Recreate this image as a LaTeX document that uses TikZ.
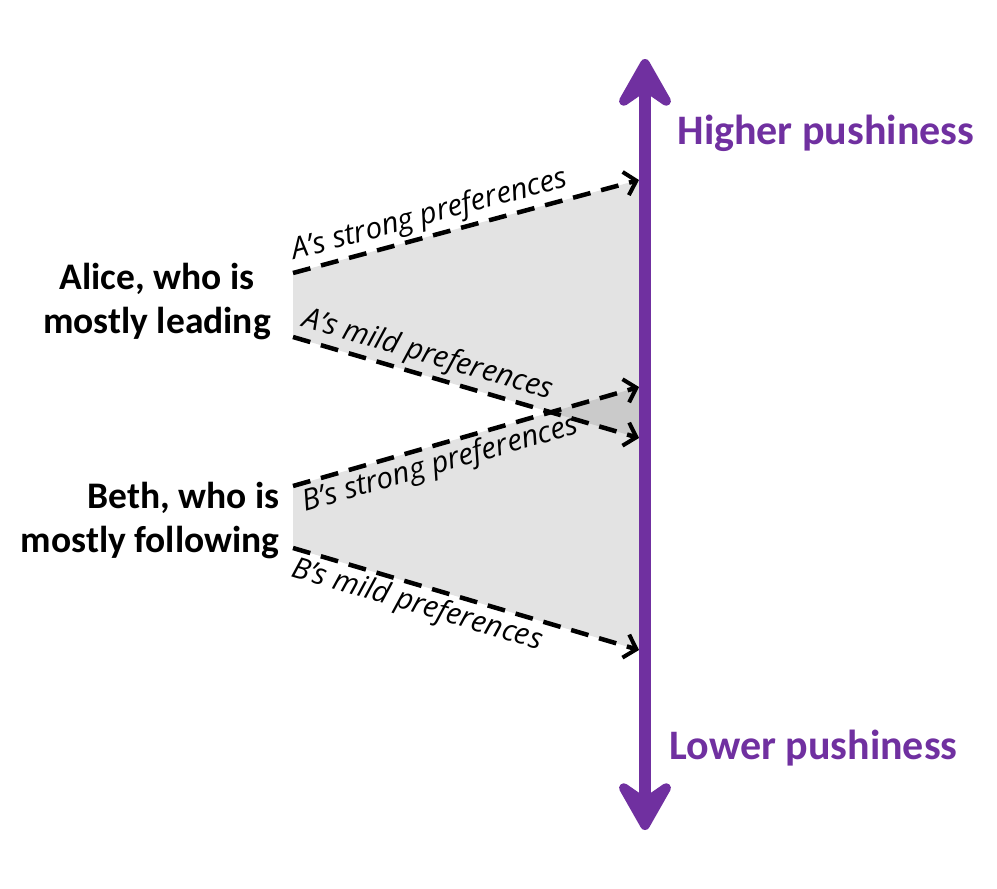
\documentclass[tikz,border=0pt]{standalone}
\usepackage{fontspec}
\setmainfont{Carlito}
\newfontfamily\labfont{Open Sans}
\usetikzlibrary{arrows.meta}
\definecolor{pptpurple}{HTML}{7030A0}
\tikzset{
  fan/.style={fill=black, fill opacity=0.11, draw=none},
  pref/.style={line width=4.5pt, dash pattern=on 18pt off 11pt,
    -{Straight Barb[length=11pt,width=24pt,line width=4pt]}},
  lab/.style={font=\labfont\itshape\fontsize{29.5}{34}\selectfont, inner sep=3pt},
  who/.style={font=\bfseries\fontsize{37.5}{44}\selectfont, text=black},
  axislab/.style={font=\bfseries\fontsize{42}{48}\selectfont, text=pptpurple, anchor=west},
  axishead/.tip={Stealth[length=62pt,width=70pt,inset=24pt,round]},
  axisline/.style={draw=pptpurple, line width=12pt, axishead-axishead}
}
\begin{document}
\begin{tikzpicture}[x=1pt,y=-1pt]
\useasboundingbox (0,0) rectangle (997,889);
% endpoints
\coordinate (as0) at (293,273);
\coordinate (as1) at (639,180);
\coordinate (am0) at (293,337);
\coordinate (am1) at (639,438);
\coordinate (bs0) at (293,486);
\coordinate (bs1) at (639,387);
\coordinate (bm0) at (293,548);
\coordinate (bm1) at (639,650);
\coordinate (axtop) at (645,59);
\coordinate (axbot) at (645,830);
% fans
\fill[fan] (as0) -- (as1) -- (am1) -- (am0) -- cycle;
\fill[fan] (bs0) -- (bs1) -- (bm1) -- (bm0) -- cycle;
% preference arrows
\draw[pref] (as0) -- node[lab, sloped, pos=0, anchor=south west] (las) {A’s strong preferences} (as1);
\draw[pref] (am0) -- node[lab, sloped, pos=0, anchor=south west] (lam) {A’s mild preferences} (am1);
\draw[pref] (bs0) -- node[lab, sloped, pos=0, anchor=north west] (lbs) {B’s strong preferences} (bs1);
\draw[pref] (bm0) -- node[lab, sloped, pos=0, anchor=north west] (lbm) {B’s mild preferences} (bm1);
% axis
\draw[axisline] (axtop) -- (axbot);
\node[axislab] (hi) at (674,133) {Higher pushiness};
\node[axislab] (lo) at (666,748) {Lower pushiness};
% people
\node[who, align=center] (alice) at (157,302) {Alice, who is\\mostly leading};
\node[who, align=right, anchor=east] (beth) at (283,521) {Beth, who is\\mostly following};
\end{tikzpicture}
\end{document}
